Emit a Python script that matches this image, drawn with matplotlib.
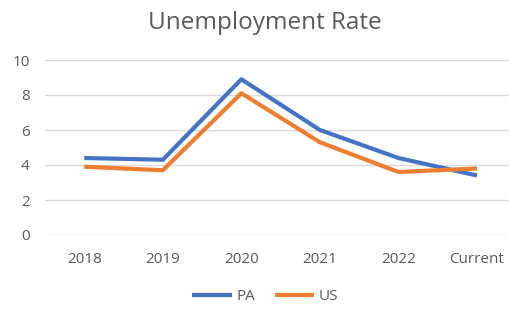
# Unemployment rate line chart
import matplotlib.pyplot as plt

years = ['2018', '2019', '2020', '2021', '2022', 'Current']
pa = [4.4, 4.3, 8.9, 6.0, 4.4, 3.4]
us = [3.9, 3.7, 8.1, 5.3, 3.6, 3.8]

plt.rcParams['font.family'] = ['Open Sans', 'DejaVu Sans']

fig = plt.figure(figsize=(5.1, 3.09), dpi=100)
ax = fig.add_axes([45 / 510, 1 - 235 / 309, 1 - 45 / 510, 175 / 309])

x = range(len(years))
ax.plot(x, pa, color='#4472C4', lw=3, label='PA', solid_capstyle='butt')
ax.plot(x, us, color='#ED7D31', lw=3, label='US', solid_capstyle='butt')

ax.set_xlim(-0.5, 5.42)
ax.set_ylim(0, 10)
ax.set_yticks(range(0, 11, 2))
ax.set_xticks(list(x))
ax.set_xticklabels(years)
ax.grid(axis='y', color='#D9D9D9', lw=1)
ax.set_axisbelow(True)
for s in ax.spines.values():
    s.set_visible(False)
ax.tick_params(length=0, labelsize=11, colors='#595959')
ax.tick_params(axis='x', pad=12)
ax.tick_params(axis='y', pad=11)

fig.text(0.52, 0.925, 'Unemployment Rate', ha='center', va='center', fontsize=17.5, color='#595959')
fig.legend(loc='center', bbox_to_anchor=(0.52, 0.04), ncol=2, frameon=False,
           fontsize=11, labelcolor='#595959', handlelength=2.6, handletextpad=0.3, columnspacing=1.3)

fig.savefig('out.png', dpi=100)
